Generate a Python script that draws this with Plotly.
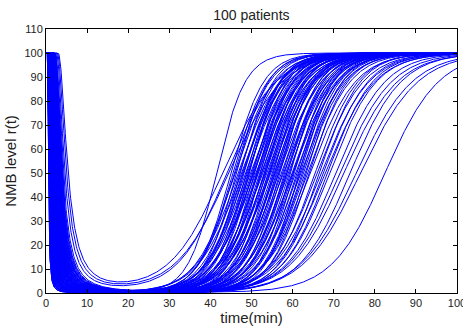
import numpy as np
import plotly.graph_objects as go

# Per-patient curve parameters
# time (min) at which r(t) falls through 50 during onset
onset_mid = [
    2.5, 5.4, 4.6, 5.0, 2.0, 1.2, 3.1, 0.8, 2.2, 1.6,
    3.5, 1.0, 2.7, 1.9, 0.7, 3.3, 1.4, 2.4, 1.1, 2.9,
    1.7, 0.9, 3.8, 2.1, 1.3, 2.6, 1.8, 0.6, 3.0, 1.5,
    2.3, 4.0, 1.0, 2.8, 1.6, 0.8, 3.4, 2.0, 1.2, 2.5,
    1.9, 0.7, 3.6, 1.4, 2.2, 1.1, 2.9, 1.7, 0.9, 3.2,
    2.4, 1.3, 2.0, 0.6, 3.7, 1.5, 2.6, 1.0, 1.8, 3.1,
    2.3, 0.8, 1.4, 2.7, 1.2, 3.3, 1.9, 0.7, 2.1, 1.6,
    3.9, 1.1, 2.5, 1.3, 0.9, 2.8, 1.7, 3.0, 1.0, 2.2,
    1.5, 0.6, 3.5, 1.8, 2.4, 1.2, 2.0, 0.8, 3.2, 1.4,
    2.6, 1.1, 1.9, 3.6, 0.7, 2.3, 1.6, 2.9, 1.3, 4.2,
]
# time (min) at which r(t) recovers through 50
recovery_mid = [
    41.5, 43.0, 44.0, 44.5, 45.0,
    45.5, 46.0, 46.3, 46.8, 47.0, 47.3, 47.6, 48.0, 48.2, 48.5,
    48.8, 49.0, 49.2, 49.5, 49.7, 50.0, 50.2, 50.4, 50.7, 51.0,
    51.2, 51.4, 51.7, 52.0, 52.2, 52.4, 52.7, 53.0, 53.2, 53.5,
    53.7, 54.0, 54.2, 54.4, 54.7, 55.0, 55.2, 55.5, 55.8, 56.0,
    56.3, 56.6, 56.9, 57.2, 57.5, 57.8, 58.0, 58.3, 58.6, 58.9,
    59.2, 59.5, 59.8, 60.1, 60.4, 60.7, 61.0, 61.3, 61.6, 62.0,
    62.3, 62.6, 63.0, 63.3, 63.6, 64.0, 64.3, 45.8, 47.8, 50.5,
    52.5, 54.5, 56.5, 58.5, 60.0, 61.8, 49.3, 51.5, 53.3, 55.7,
    65.5, 66.0, 66.5, 67.0, 67.5, 68.0, 68.5, 69.0,
    70.5, 71.5, 72.5, 74.0, 75.5, 76.5,
    82.5,
]
# recovery spread (min)
recovery_width = [
    3.5, 6.5, 6.0, 6.5, 4.0,
    4.2, 4.8, 3.9, 5.1, 4.5, 4.0, 5.3, 4.6, 4.3, 4.9,
    4.1, 5.0, 4.4, 3.8, 5.2, 4.7, 4.2, 4.9, 4.0, 5.4,
    4.5, 4.1, 5.0, 4.6, 3.9, 4.8, 5.2, 4.3, 4.7, 4.0,
    5.1, 4.4, 4.9, 4.2, 5.3, 4.6, 4.0, 4.8, 5.0, 4.3,
    4.7, 5.2, 4.1, 4.9, 4.5, 5.4, 4.2, 4.8, 4.4, 5.1,
    4.6, 4.0, 5.0, 4.7, 4.3, 5.2, 4.5, 4.9, 4.1, 5.3,
    4.6, 4.8, 5.0, 4.4, 5.2, 4.7, 5.5, 4.3, 4.6, 5.0,
    4.8, 5.1, 4.4, 4.9, 5.3, 4.5, 4.2, 4.7, 5.0, 4.6,
    5.2, 5.6, 5.0, 5.8, 5.4, 6.0, 5.5, 5.7,
    6.0, 6.3, 6.5, 6.2, 6.8, 7.0,
    6.5,
]

x_ticks = list(range(0, 101, 10))
y_ticks = list(range(0, 111, 10))

t = np.linspace(0, 100, 1001)

fig = go.Figure()
for td, tu, w in zip(onset_mid, recovery_mid, recovery_width):
    lag = 0.55 * td
    dt = np.clip(t - lag, 1e-9, None)
    onset = np.where(t > lag, 1.0 / (1.0 + ((td - lag) / dt) ** 2), 0.0)
    recov = 1.0 / (1.0 + np.exp(-(t - tu) / w))
    r = 100.0 * (1.0 - onset * (1.0 - recov))
    fig.add_trace(go.Scatter(x=t, y=r, mode="lines",
                             line=dict(color="#0000FF", width=1),
                             showlegend=False, hoverinfo="skip"))

axis_common = dict(
    showline=True, linecolor="black", linewidth=1, mirror="ticks",
    ticks="inside", ticklen=4, tickcolor="black", showgrid=False,
    zeroline=False, automargin=False, ticklabeloverflow="allow",
    tickfont=dict(size=11, color="#222"),
)
fig.update_layout(
    width=463, height=326,
    margin=dict(l=46, r=6, t=29, b=33),
    paper_bgcolor="white", plot_bgcolor="white",
    font=dict(family="Arial, Liberation Sans, sans-serif", color="#222"),
    title=dict(text="100 patients", x=0.543, xanchor="center", y=0.955,
               yanchor="middle", font=dict(size=14, color="#222")),
    xaxis=dict(range=[0, 100], tickvals=x_ticks,
               title=dict(text="time(min)", font=dict(size=15), standoff=0),
               **axis_common),
    yaxis=dict(range=[0, 110], tickvals=y_ticks,
               title=dict(text="NMB level r(t)", font=dict(size=15), standoff=4),
               **axis_common),
)
fig.write_html("out.html", config=dict(displayModeBar=False),
               post_script="document.body.style.margin='0';")
